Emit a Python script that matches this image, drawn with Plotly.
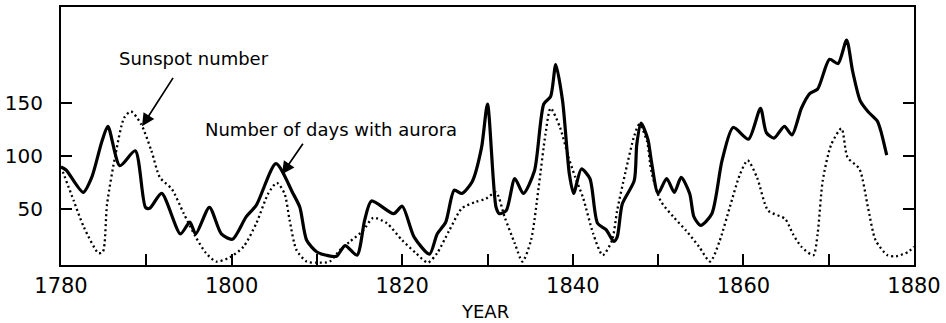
import plotly.graph_objects as go

# Number of days with aurora (solid curve)
aurora_year = [1780, 1780.6, 1782.6, 1783.6, 1784.8, 1785.5, 1786.9, 1788.7, 1789.9, 1790.4,
               1791.8, 1794.0, 1795.1, 1795.8, 1797.4, 1798.8, 1800.1, 1801.7, 1802.9, 1805.2,
               1807.2, 1808.0, 1808.8, 1810.0, 1811.1, 1812.3, 1813.3, 1814.7, 1815.6, 1816.4,
               1819.0, 1820.0, 1821.4, 1823.2, 1824.1, 1825.1, 1826.1, 1827.0, 1828.2, 1829.3,
               1830.0, 1831.0, 1831.4, 1832.2, 1833.2, 1834.2, 1835.5, 1836.6, 1837.4, 1838.0,
               1838.8, 1839.6, 1840.1, 1841.0, 1842.0, 1842.9, 1843.9, 1844.8, 1845.2, 1845.8,
               1847.2, 1847.5, 1848.0, 1848.8, 1849.2, 1850.0, 1851.0, 1851.9, 1852.7, 1853.7,
               1854.2, 1855.0, 1856.3, 1857.5, 1858.8, 1860.6, 1862.0, 1862.7, 1863.6, 1864.8,
               1865.7, 1866.8, 1867.8, 1868.7, 1870.1, 1871.1, 1872.1, 1872.8, 1873.7, 1874.6,
               1875.7, 1876.1, 1876.8]
aurora_days = [90, 87, 66, 80, 114, 128, 91, 105, 52, 51,
               65, 27, 38, 27, 52, 27, 22, 43, 54, 93,
               65, 52, 21, 10, 7, 6, 16, 7, 40, 58,
               46, 53, 24, 8, 27, 38, 68, 65, 76, 108,
               149, 52, 46, 49, 79, 65, 86, 149, 156, 186,
               152, 83, 65, 88, 79, 37, 31, 20, 24, 55,
               77, 111, 131, 116, 96, 65, 79, 66, 80, 65,
               43, 35, 46, 96, 127, 116, 145, 122, 117, 128,
               120, 145, 159, 163, 191, 187, 209, 180, 152, 142,
               133, 124, 101]

# Sunspot number (dotted curve)
sunspot_year = [1780, 1781.5, 1782.7, 1784.4, 1784.9, 1785.4, 1786.4, 1787.4, 1788.2, 1789.4,
                1790.6, 1791.6, 1793.0, 1794.4, 1795.8, 1797.0, 1798.2, 1799.8, 1801.4, 1802.9,
                1804.3, 1805.3, 1806.2, 1806.8, 1807.6, 1808.8, 1810.0, 1811.5, 1812.7, 1813.9,
                1815.4, 1816.6, 1818.2, 1820.0, 1821.6, 1823.0, 1824.1, 1825.5, 1827.0, 1828.6,
                1829.8, 1831.0, 1832.0, 1833.2, 1834.1, 1835.1, 1836.0, 1836.8, 1837.4, 1838.5,
                1839.5, 1840.3, 1841.2, 1842.4, 1843.5, 1844.6, 1845.2, 1846.2, 1847.2, 1847.8,
                1848.7, 1849.2, 1850.3, 1851.8, 1853.3, 1854.8, 1856.1, 1857.2, 1858.4, 1859.6,
                1860.5, 1861.6, 1862.9, 1864.9, 1865.8, 1866.8, 1868.2, 1868.7, 1869.3, 1870.3,
                1871.5, 1872.2, 1873.6, 1874.6, 1875.5, 1876.9, 1877.9, 1879.3, 1880]
sunspot_number = [90, 58, 33, 9, 10, 55, 102, 136, 142, 130,
                  105, 80, 69, 46, 24, 9, 1, 5, 15, 37,
                  65, 75, 65, 40, 12, 1, 0, 1, 12, 20,
                  30, 42, 37, 21, 9, 0, 9, 30, 51, 57,
                  60, 66, 43, 18, 1, 21, 71, 121, 145, 127,
                  99, 80, 61, 27, 7, 21, 49, 86, 119, 130,
                  114, 86, 58, 43, 30, 15, 1, 20, 52, 83,
                  96, 80, 49, 41, 27, 15, 7, 27, 77, 111,
                  126, 99, 88, 52, 21, 7, 6, 10, 15]

x_tick_vals = [1780, 1800, 1820, 1840, 1860, 1880]
x_tick_text = ["1780", "1800", "1820", "1840", "1860", "1880"]
y_tick_vals = [50, 100, 150]
y_tick_text = ["50", "100", "150"]

FONT = "DejaVu Sans"

fig = go.Figure()
fig.add_trace(go.Scatter(
    x=sunspot_year, y=sunspot_number, mode="lines",
    line=dict(color="black", width=2.3, dash="2px,3px", shape="spline", smoothing=0.7),
    hoverinfo="skip", showlegend=False,
))
fig.add_trace(go.Scatter(
    x=aurora_year, y=aurora_days, mode="lines",
    line=dict(color="black", width=3.2, shape="spline", smoothing=0.7),
    hoverinfo="skip", showlegend=False,
))

fig.update_xaxes(
    range=[1780, 1880], tickvals=x_tick_vals, ticktext=x_tick_text,
    ticks="inside", ticklen=11, tickwidth=1.5, tickcolor="black",
    minor=dict(dtick=10, tick0=1780, ticks="inside", ticklen=11, tickwidth=1.5, tickcolor="black"),
    showline=True, linecolor="black", linewidth=2, mirror=True,
    showgrid=False, zeroline=False,
    tickfont=dict(family=FONT, size=21, color="black"),
    ticklabelstandoff=1,
)
fig.update_yaxes(
    range=[-2.2, 240.1], tickvals=y_tick_vals, ticktext=y_tick_text,
    ticks="inside", ticklen=11, tickwidth=1.5, tickcolor="black",
    showline=True, linecolor="black", linewidth=2, mirror="ticks",
    showgrid=False, zeroline=False,
    tickfont=dict(family=FONT, size=20, color="black"),
    ticklabelstandoff=12,
)

annotations = [
    dict(text="Sunspot number", xref="paper", yref="paper", x=0.156, y=0.80,
         xanchor="center", yanchor="middle",
         showarrow=False, font=dict(family=FONT, size=18, color="black")),
    dict(text="Number of days with aurora", xref="paper", yref="paper", x=0.316, y=0.527,
         xanchor="center", yanchor="middle",
         showarrow=False, font=dict(family=FONT, size=18, color="black")),
    dict(text="YEAR", xref="paper", yref="paper", x=0.497, y=-0.181,
         xanchor="center", yanchor="middle",
         showarrow=False, font=dict(family=FONT, size=18, color="black")),
    dict(text="", x=1789.5, y=128, xref="x", yref="y", showarrow=True,
         ax=32, ay=-50, arrowhead=2, arrowsize=1.5, arrowwidth=1.7, arrowcolor="black"),
    dict(text="", x=1805.9, y=83, xref="x", yref="y", showarrow=True,
         ax=22, ay=-32, arrowhead=2, arrowsize=1.5, arrowwidth=1.7, arrowcolor="black"),
]

fig.update_layout(
    width=946, height=323,
    margin=dict(l=60, r=31, t=5, b=58),
    paper_bgcolor="white", plot_bgcolor="white",
    annotations=annotations,
)

fig.write_html("out.html")
